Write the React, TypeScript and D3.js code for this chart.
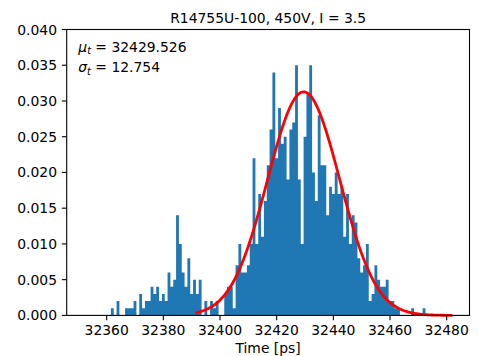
import React from "react";
import * as d3 from "d3";

const W = 478;
const H = 356;

// Histogram: bin i covers [binStart + i*binWidth, binStart + (i+1)*binWidth)
const binStart = 32351.5;
const binWidth = 1;
const totalCount = 1000;
const counts = [
  0, 0, 0, 0, 0, 0, 0, 0, 0, 0,
  1, 0, 2, 0, 0, 1, 1, 1, 2, 0,
  3, 1, 2, 2, 4, 3, 4, 2, 3, 2,
  6, 4, 5, 14, 10, 6, 4, 8, 3, 5,
  3, 5, 0, 2, 0, 2, 1, 2, 0, 0,
  3, 4, 4, 1, 7, 10, 6, 6, 7, 10,
  22, 10, 17, 11, 16, 21, 26, 34, 22, 29,
  24, 25, 19, 26, 27, 35, 19, 10, 25, 31,
  35, 20, 16, 28, 21, 21, 14, 18, 17, 20,
  17, 18, 11, 17, 10, 14, 13, 8, 6, 7,
  10, 2, 3, 7, 5, 4, 4, 5, 2, 2,
  1, 1, 0, 0, 0, 0, 1, 0, 0, 0,
  1, 0, 0, 0, 0, 0, 0, 0, 0, 0,
  0,
];

const mu = 32429.526;
const sigma = 12.754;
const fitEnd = 32482;

const xTicks = [32360, 32380, 32400, 32420, 32440, 32460, 32480];
const yTicks = [0, 0.005, 0.01, 0.015, 0.02, 0.025, 0.03, 0.035, 0.04];

const title = "R14755U-100, 450V, I = 3.5";
const xLabel = "Time [ps]";

const left = 66.7;
const right = 469.5;
const top = 29.5;
const bottom = 315.4;

const FONT = "DejaVu Sans";
const FS = 13.9;

export default function App() {
  const x = d3.scaleLinear().domain([32345.9, 32488.05]).range([left, right]);
  const y = d3.scaleLinear().domain([0, 0.04]).range([bottom, top]);

  const density = counts.map((c) => c / (totalCount * binWidth));

  const p = d3.path();
  density.forEach((d, i) => {
    if (d <= 0) return;
    const x0 = x(binStart + i * binWidth);
    const x1 = x(binStart + (i + 1) * binWidth);
    p.rect(x0, y(d), x1 - x0, y(0) - y(d));
  });

  const pdf = (t: number) =>
    Math.exp(-0.5 * ((t - mu) / sigma) ** 2) / (sigma * Math.sqrt(2 * Math.PI));
  const xs = d3.range(mu - 3 * sigma, fitEnd, 0.25).concat([fitEnd]);
  const line = d3
    .line<number>()
    .x((t) => x(t))
    .y((t) => y(pdf(t)));

  const tickLen = 4.86;
  const sw = 1.1;

  return (
    <svg
      width={W}
      height={H}
      style={{ position: "absolute", left: 0, top: 0, background: "#fff" }}
      fontFamily={FONT}
    >
      <rect x={0} y={0} width={W} height={H} fill="#fff" />
      <path d={p.toString()} fill="#1f77b4" />
      <path
        d={line(xs) || ""}
        fill="none"
        stroke="#ff0000"
        strokeWidth={2.8}
        strokeLinejoin="round"
        strokeLinecap="butt"
      />
      {/* spines */}
      <rect
        x={left}
        y={top}
        width={right - left}
        height={bottom - top}
        fill="none"
        stroke="#000"
        strokeWidth={sw}
      />
      {/* x ticks */}
      {xTicks.map((t) => (
        <g key={"x" + t}>
          <line x1={x(t)} x2={x(t)} y1={bottom} y2={bottom + tickLen} stroke="#000" strokeWidth={sw} />
          <text x={x(t)} y={bottom + 19.9} fontSize={FS} textAnchor="middle" fill="#000">
            {t}
          </text>
        </g>
      ))}
      {/* y ticks */}
      {yTicks.map((t) => (
        <g key={"y" + t}>
          <line x1={left - tickLen} x2={left} y1={y(t)} y2={y(t)} stroke="#000" strokeWidth={sw} />
          <text
            x={left - 9.7}
            y={y(t) + 5}
            fontSize={FS}
            textAnchor="end"
            fill="#000"
          >
            {t.toFixed(3)}
          </text>
        </g>
      ))}
      <text x={(left + right) / 2} y={23} fontSize={FS} textAnchor="middle" fill="#000">
        {title}
      </text>
      <text x={(left + right) / 2} y={352.5} fontSize={FS} textAnchor="middle" fill="#000">
        {xLabel}
      </text>
      {/* annotation */}
      <text x={78.3} y={51.5} fontSize={FS} fill="#000">
        <tspan fontStyle="italic">μ</tspan>
        <tspan fontStyle="italic" fontSize={FS * 0.7} dy={2.6}>t</tspan>
        <tspan dy={-2.6}>{" = " + mu.toFixed(3)}</tspan>
      </text>
      <text x={78.3} y={72.3} fontSize={FS} fill="#000">
        <tspan fontStyle="italic">σ</tspan>
        <tspan fontStyle="italic" fontSize={FS * 0.7} dy={2.6}>t</tspan>
        <tspan dy={-2.6}>{" = " + sigma.toFixed(3)}</tspan>
      </text>
    </svg>
  );
}
